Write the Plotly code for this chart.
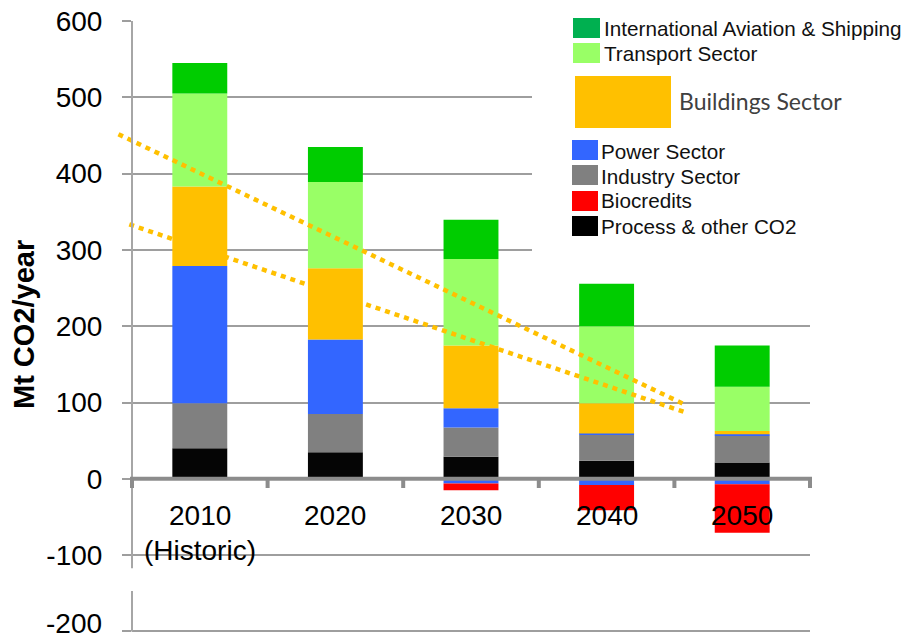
import plotly.graph_objects as go

# ---------------- data ----------------
categories = ["2010", "2020", "2030", "2040", "2050"]
category_sublabels = ["(Historic)", "", "", "", ""]

process_other = [40, 35, 29, 23.6, 21.4]
industry = [59, 50, 38.4, 34, 35]
power = [180, 97.5, 25, 2, 2]
power_negative = [0, 0, -6, -8, -7]
biocredits = [0, 0, -9, -33, -63.5]
buildings = [104, 93.5, 82.3, 39.4, 4.4]
transport = [122, 113, 113.4, 101, 57.8]
intl_aviation_shipping = [40, 46, 51.6, 55.6, 54]

# dotted trend lines: (category position, Mt CO2/year)
trend_upper_pos = [-0.6, 3.58]
trend_upper_val = [451.6, 97.1]
trend_lower_pos = [-0.52, 3.59]
trend_lower_val = [333.5, 86.6]

y_ticks = [600, 500, 400, 300, 200, 100, 0, -100, -200]
y_tick_labels = ["600", "500", "400", "300", "200", "100", "0", "-100", "-200"]

legend_labels = ["International Aviation & Shipping", "Transport Sector", "Buildings Sector",
                 "Power Sector", "Industry Sector", "Biocredits", "Process & other CO2"]

# ---------------- style ----------------
C_INTL = "#00CC00"
C_INTL_LEG = "#00B050"
C_TRANS = "#99FF66"
C_BUILD = "#FFC000"
C_POWER = "#3366FF"
C_IND = "#808080"
C_BIO = "#FF0000"
C_PROC = "#050505"
FONT = "Arial, Liberation Sans, sans-serif"

W_TOT, H_TOT = 906, 641
ML, MR, MT, MB = 132, 96, 21, 8
PW = W_TOT - ML - MR
PH = H_TOT - MT - MB
Y_MIN, Y_MAX = -202, 600


def pxx(x):
    return (x - ML) / PW


def pxy(y):
    return (H_TOT - MB - y) / PH


xpos = list(range(len(categories)))
ncat = len(categories)


def cat_paper(p):
    return (p + 0.5) / ncat


fig = go.Figure()
series = [
    ("Process & other CO2", process_other, C_PROC),
    ("Industry Sector", industry, C_IND),
    ("Power Sector", power, C_POWER),
    ("Power Sector (negative)", power_negative, C_POWER),
    ("Biocredits", biocredits, C_BIO),
    ("Buildings Sector", buildings, C_BUILD),
    ("Transport Sector", transport, C_TRANS),
    ("International Aviation & Shipping", intl_aviation_shipping, C_INTL),
]
for name, vals, col in series:
    fig.add_trace(go.Bar(x=xpos, y=vals, name=name, marker=dict(color=col, line=dict(width=0)),
                         showlegend=False))

shapes = []
# trend lines
for pos, val in [(trend_upper_pos, trend_upper_val), (trend_lower_pos, trend_lower_val)]:
    shapes.append(dict(type="line", xref="paper", yref="y",
                       x0=cat_paper(pos[0]), y0=val[0], x1=cat_paper(pos[1]), y1=val[1],
                       line=dict(color="#FFC000", width=4.5, dash="5px,5px"), layer="above"))
# y axis line (with gap as in original)
shapes.append(dict(type="line", xref="paper", yref="y", x0=0, x1=0, y0=600, y1=-117,
                   line=dict(color="#a6a6a6", width=2), layer="above"))
shapes.append(dict(type="line", xref="paper", yref="y", x0=0, x1=0, y0=-147, y1=-200,
                   line=dict(color="#a6a6a6", width=2), layer="above"))
# category axis at zero
shapes.append(dict(type="line", xref="paper", yref="y", x0=pxx(130), x1=pxx(812), y0=0, y1=0,
                   line=dict(color="#8c8c8c", width=4), layer="above"))
for i in range(ncat + 1):
    xp = i / ncat
    shapes.append(dict(type="line", xref="paper", yref="y", x0=xp, x1=xp, y0=0, y1=-12,
                       line=dict(color="#8c8c8c", width=4), layer="above"))
# legend background
shapes.append(dict(type="rect", xref="paper", yref="paper", x0=pxx(532), x1=pxx(906),
                   y0=pxy(258), y1=pxy(0), fillcolor="white", line=dict(width=0), layer="above"))

LEG_FS = 20.7
legend_items = [
    (legend_labels[0], C_INTL_LEG, (573, 18, 600, 38), 602, 29, LEG_FS, "#111111", FONT),
    (legend_labels[1], C_TRANS, (573, 43, 600, 63), 602, 53, LEG_FS, "#111111", FONT),
    (legend_labels[2], C_BUILD, (575, 76, 671, 128), 677, 101, 23, "#404040", "Lato, Liberation Sans, sans-serif"),
    (legend_labels[3], C_POWER, (572, 140, 598, 160), 599, 151, LEG_FS, "#111111", FONT),
    (legend_labels[4], C_IND, (572, 165, 598, 185), 599, 176, LEG_FS, "#111111", FONT),
    (legend_labels[5], C_BIO, (572, 191, 598, 211), 599, 201, LEG_FS, "#111111", FONT),
    (legend_labels[6], "#000000", (572, 216, 598, 236), 599, 226, LEG_FS, "#111111", FONT),
]
annotations = []
for text, col, (x0, y0, x1, y1), tx, ty, fs, fc, ff in legend_items:
    shapes.append(dict(type="rect", xref="paper", yref="paper", x0=pxx(x0), x1=pxx(x1),
                       y0=pxy(y1), y1=pxy(y0), fillcolor=col, line=dict(width=0), layer="above"))
    annotations.append(dict(xref="paper", yref="paper", x=pxx(tx), y=pxy(ty), text=text,
                            showarrow=False, xanchor="left", yanchor="middle",
                            font=dict(family=ff, size=fs, color=fc)))

# category labels
for i, (lab, sub) in enumerate(zip(categories, category_sublabels)):
    annotations.append(dict(xref="x", yref="y", x=xpos[i], y=-48.6, text=lab, showarrow=False,
                            xanchor="center", yanchor="middle",
                            font=dict(family=FONT, size=28, color="black")))
    if sub:
        annotations.append(dict(xref="x", yref="y", x=xpos[i], y=-94.5, text=sub, showarrow=False,
                                xanchor="center", yanchor="middle",
                                font=dict(family=FONT, size=28, color="black")))

# bottom tick label kept inside the page (as in the original)
tick_text_shown = [t if v != Y_MIN + 2 else "" for v, t in zip(y_ticks, y_tick_labels)]
annotations.append(dict(xref="paper", yref="paper", x=pxx(104), y=pxy(H_TOT),
                        text=y_tick_labels[-1], showarrow=False, xanchor="right", yanchor="bottom",
                        font=dict(family=FONT, size=28, color="black")))

# y axis title
annotations.append(dict(xref="paper", yref="paper", x=pxx(24), y=pxy(325), text="<b>Mt CO2/year</b>",
                        textangle=-90, showarrow=False, xanchor="center", yanchor="middle",
                        font=dict(family=FONT, size=29, color="black")))

fig.update_layout(
    width=W_TOT, height=H_TOT,
    margin=dict(l=ML, r=MR, t=MT, b=MB, pad=0, autoexpand=False),
    paper_bgcolor="white", plot_bgcolor="white",
    barmode="relative", bargap=0.595,
    showlegend=False,
    xaxis=dict(range=[-0.5, ncat - 0.5], showgrid=False, zeroline=False, showticklabels=False,
               showline=False, ticks="", automargin=False),
    yaxis=dict(range=[Y_MIN, Y_MAX], tickvals=y_ticks, ticktext=tick_text_shown,
               showgrid=True, gridcolor="#9e9e9e", gridwidth=1.5, zeroline=False,
               showline=False, ticks="outside", ticklen=9, tickwidth=1.5, tickcolor="#9e9e9e",
               ticklabelstandoff=14, ticklabeloverflow="allow", automargin=False,
               tickfont=dict(family=FONT, size=28, color="black")),
    shapes=shapes,
    annotations=annotations,
)

fig.write_html("out.html", config={"displayModeBar": False},
               post_script="document.body.style.margin='0';document.body.style.padding='0';document.body.style.overflow='hidden';")
